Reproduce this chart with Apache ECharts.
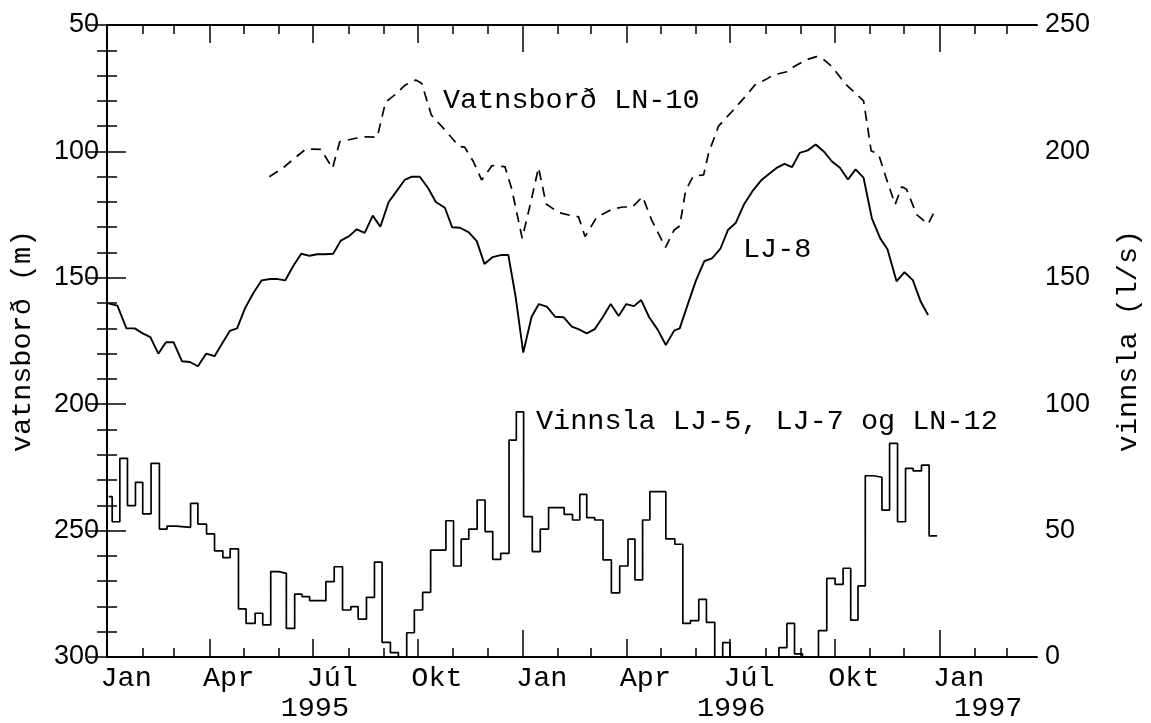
<!DOCTYPE html>
<html><head><meta charset="utf-8">
<script src="https://cdn.jsdelivr.net/npm/echarts@6/dist/echarts.min.js"></script>
<style>html,body{margin:0;padding:0;background:#fff;overflow:hidden;width:1151px;height:723px}#c{width:1151px;height:723px}</style>
</head><body><div id="c"></div>
<script>
// x unit: months since 1 Jan 1995 (uniform, 731 days = 24 units)
const quarterNames = ['Jan', 'Apr', 'Júl', 'Okt'];
const years = [1995, 1996, 1997];
const xMax = 26.81;
const leftTicks = [50, 100, 150, 200, 250, 300];
const rightTicks = [0, 50, 100, 150, 200, 250];

// Vatnsborð LJ-8 (m), [month, value]
const lj8 = [
[0.0,160],[0.3,161],[0.56,170],[0.8,170],[1.03,172],[1.25,173.5],[1.48,180],[1.7,175.5],[1.92,175.5],[2.16,183],
[2.39,183.3],[2.62,185],[2.86,180],[3.1,181],[3.32,176],[3.54,171],[3.75,170],[3.98,162],[4.22,156],[4.46,151],
[4.7,150.5],[4.92,150.5],[5.14,151],[5.36,145.5],[5.6,140.5],[5.84,141.3],[6.06,140.7],[6.29,140.7],[6.52,140.5],[6.74,135.3],
[6.98,133.5],[7.2,130.8],[7.43,132.2],[7.66,125.4],[7.88,129.8],[8.12,120],[8.36,115.5],[8.58,111.3],[8.79,110],[9.02,110],
[9.26,114.6],[9.48,120],[9.74,122.3],[9.95,130],[10.18,130.2],[10.43,132],[10.66,135.5],[10.88,144.5],[11.12,141.8],[11.35,141],
[11.57,141],[11.78,157.5],[12.0,179.6],[12.24,165.4],[12.45,160.4],[12.68,161.4],[12.92,165.4],[13.16,165.6],[13.4,169.3],[13.59,170.3],
[13.83,172],[14.06,170.3],[14.3,165.4],[14.52,160.4],[14.75,165.1],[14.97,160.4],[15.19,161.2],[15.4,158.8],[15.63,165.6],[15.87,170.4],
[16.11,176.6],[16.35,170.9],[16.51,170],[16.73,161],[16.98,151],[17.22,143.4],[17.44,142.3],[17.68,138.6],[17.9,131.1],[18.13,128.2],
[18.37,120.8],[18.63,115.3],[18.87,111.3],[19.1,108.7],[19.32,106.4],[19.53,104.9],[19.75,106.2],[19.97,100.6],[20.2,99.6],[20.43,97.3],
[20.67,100.1],[20.9,104],[21.13,106.5],[21.36,111.1],[21.58,107.1],[21.81,110.4],[22.05,126.5],[22.29,134.4],[22.5,138.7],[22.76,151.4],
[22.99,147.8],[23.23,150.9],[23.46,159.5],[23.67,164.7]
];

// Vatnsborð LN-10 (m), [month, value]
const ln10 = [
[4.68,110],[5.06,106.7],[5.46,102.1],[5.74,99],[6.17,99.2],[6.5,106.7],[6.71,96.2],[7.17,94.8],[7.45,94.2],[7.79,94.4],
[8.03,80.5],[8.31,77.5],[8.6,73.7],[8.9,71.8],[9.07,73],[9.35,85.6],[9.74,91.5],[10.15,98],[10.31,98.3],[10.56,104],
[10.8,111.3],[11.1,105.6],[11.47,106],[11.67,115],[11.97,134.4],[12.21,120.5],[12.44,106.4],[12.66,120.8],[13.02,124.2],[13.5,125.8],
[13.59,125.8],[13.78,133.7],[14.11,126.2],[14.56,122.8],[14.87,122],[15.15,122],[15.44,117.9],[15.7,127.1],[16.1,138],[16.35,131.1],
[16.51,129.5],[16.68,115.5],[16.9,109.8],[17.2,109.3],[17.34,100.8],[17.63,90],[18.01,84.3],[18.44,77.7],[18.68,73.7],[19.0,71.5],
[19.2,69.8],[19.6,68.5],[19.8,66.5],[20.15,63.8],[20.45,62.5],[20.6,63],[20.9,66.5],[21.3,73.5],[21.81,80],[21.9,88],
[22.03,99.8],[22.24,101],[22.45,110],[22.72,121],[22.91,114],[23.05,115],[23.34,125],[23.67,128.8],[23.91,122.2]
];

// Vinnsla LJ-5, LJ-7 og LN-12 (l/s), weekly steps [start month, value]
const vinnsla = [
[0.05,63.4],[0.15,53.5],[0.37,78.6],[0.59,59.9],[0.82,69.1],[1.03,56.6],[1.27,76.6],[1.51,50.6],[1.73,51.8],[1.99,51.3],
[2.41,60.8],[2.62,52.6],[2.87,48.7],[3.1,42],[3.34,39.3],[3.55,42.8],[3.79,19],[4.01,13.3],[4.27,17.3],[4.49,12.7],
[4.72,33.8],[4.95,33.1],[5.17,11.3],[5.41,24.9],[5.62,23.9],[5.84,22.3],[6.31,29.8],[6.55,35.7],[6.79,18.6],[7.03,19.9],
[7.24,15],[7.48,23.6],[7.71,37.5],[7.93,5.8],[8.17,1.7],[8.4,0],[8.64,9.6],[8.86,18.6],[9.1,25.6],[9.33,42.3],
[9.77,53.9],[9.99,36],[10.21,46.6],[10.43,50.6],[10.67,62.1],[10.9,49.6],[11.12,38.6],[11.35,41],[11.59,85.8],[11.8,97],
[12.01,55.5],[12.26,41.7],[12.49,50.6],[12.73,59.1],[13.18,56.4],[13.42,54.2],[13.63,64.3],[13.83,55.1],[14.06,54.2],[14.3,38.4],
[14.54,25.4],[14.78,36],[15.02,46.6],[15.22,30.5],[15.44,54.2],[15.65,65.4],[16.11,46.7],[16.37,44.6],[16.6,13.3],[16.82,14.4],
[17.06,22.8],[17.28,13.7],[17.52,0],[17.75,5.7],[17.96,0],[19.37,3.7],[19.6,13.3],[19.82,1.2],[20.05,0],[20.51,10.4],
[20.75,31.1],[20.99,28.7],[21.22,35.1],[21.44,14.6],[21.65,28.1],[21.86,71.7],[22.1,71.1],[22.34,58.1],[22.56,84.5],[22.79,53.5],
[23.02,74.6],[23.24,73.6],[23.48,75.9],[23.7,47.9],[23.93,47.9]
];

// month-start positions in the month unit, from real calendar days
const DAY0 = Date.UTC(1995, 0, 1);
const UNIT = 731 / 24;
const monthStarts = [];
for (let k = 0; k <= 26; k++) monthStarts.push({k, v: (Date.UTC(1995, k, 1) - DAY0) / 86400000 / UNIT});
const monthTicks = monthStarts.map(d => d.v);
const quarterTicks = monthStarts.filter(d => d.k % 3 === 0).map(d => d.v);
const yearTicks = monthStarts.filter(d => d.k % 12 === 0).map(d => d.v);
const labelShift = 0.55;
const quarterLabels = monthStarts.filter(d => d.k % 3 === 0).map(d => ({v: +(d.v + labelShift).toFixed(4), t: quarterNames[(d.k / 3) % 4]}));
const yearLabels = years.map((y, i) => {
  const a = yearTicks[i], b = i + 1 < yearTicks.length ? yearTicks[i + 1] : xMax;
  return {v: +((a + b) / 2).toFixed(4), t: String(y)};
});

const MONO = 'Liberation Mono';
const SANS = 'Liberation Sans';
const BLACK = '#000';
const TICKW = 1.5;
const TXT = 28.5;

function xAx(pos, ticks, len, opts) {
  return Object.assign({
    type: 'value', min: 0, max: xMax, position: pos, gridIndex: 0,
    axisLine: {show: false, onZero: false},
    axisTick: {show: true, inside: true, length: len, customValues: ticks, lineStyle: {color: BLACK, width: TICKW}},
    axisLabel: {show: false},
    splitLine: {show: false}
  }, opts || {});
}

const xAxes = [
  xAx('bottom', monthTicks, 9, {axisLine: {show: true, onZero: false, lineStyle: {color: BLACK, width: 2}}}),
  xAx('bottom', quarterTicks, 18),
  xAx('bottom', yearTicks, 27),
  xAx('top', monthTicks, 9, {axisLine: {show: true, onZero: false, lineStyle: {color: BLACK, width: 2}}}),
  xAx('top', quarterTicks, 18),
  xAx('top', yearTicks, 27),
  xAx('bottom', [], 0, {axisTick: {show: false}, axisLabel: {show: true, customValues: quarterLabels.map(d => d.v), margin: 7,
     formatter: v => { const f = quarterLabels.find(d => Math.abs(d.v - v) < 1e-3); return f ? f.t : ''; },
     fontFamily: MONO, fontSize: TXT, color: BLACK}}),
  xAx('bottom', [], 0, {axisTick: {show: false}, axisLabel: {show: true, customValues: yearLabels.map(d => d.v), margin: 37,
     formatter: v => { const f = yearLabels.find(d => Math.abs(d.v - v) < 1e-3); return f ? f.t : ''; },
     fontFamily: MONO, fontSize: TXT, color: BLACK}})
];

function minorY(pos, inverse, min, max) {
  return {type: 'value', inverse, min, max, interval: 10, position: pos,
    axisLine: {show: false}, axisLabel: {show: false}, splitLine: {show: false},
    axisTick: {show: true, inside: true, length: 10, lineStyle: {color: BLACK, width: TICKW}}};
}

const chart = echarts.init(document.getElementById('c'), null, {renderer: 'canvas', width: 1151, height: 723});
chart.setOption({
  backgroundColor: '#fff',
  animation: false,
  grid: {left: 105, right: 106, top: 25, bottom: 66, containLabel: false},
  xAxis: xAxes,
  yAxis: [
    {type: 'value', inverse: true, min: 50, max: 300, interval: 50, position: 'left',
     axisLine: {show: true, lineStyle: {color: BLACK, width: 2}},
     axisTick: {show: true, inside: true, length: 19, lineStyle: {color: BLACK, width: TICKW}},
     axisLabel: {fontFamily: SANS, fontSize: 27, color: BLACK, margin: 8, customValues: leftTicks},
     splitLine: {show: false},
     name: 'vatnsborð (m)', nameLocation: 'middle', nameGap: 70, nameRotate: 90,
     nameTextStyle: {fontFamily: MONO, fontSize: TXT, color: BLACK}},
    {type: 'value', min: 0, max: 250, interval: 50, position: 'right',
     axisLine: {show: true, lineStyle: {color: BLACK, width: 2}},
     axisTick: {show: true, inside: true, length: 19, lineStyle: {color: BLACK, width: TICKW}},
     axisLabel: {fontFamily: SANS, fontSize: 27, color: BLACK, margin: 8, customValues: rightTicks},
     splitLine: {show: false},
     name: 'vinnsla (l/s)', nameLocation: 'middle', nameGap: 77, nameRotate: 90,
     nameTextStyle: {fontFamily: MONO, fontSize: TXT, color: BLACK}},
    minorY('left', true, 50, 300),
    minorY('right', false, 0, 250)
  ],
  series: [
    {name: 'Vatnsborð LN-10', type: 'line', xAxisIndex: 0, yAxisIndex: 0, data: ln10, showSymbol: false, symbol: 'none',
     lineStyle: {color: BLACK, width: 1.7, type: [10, 7]}},
    {name: 'LJ-8', type: 'line', xAxisIndex: 0, yAxisIndex: 0, data: lj8, showSymbol: false, symbol: 'none',
     lineStyle: {color: BLACK, width: 1.9}},
    {name: 'Vinnsla', type: 'line', step: 'end', xAxisIndex: 0, yAxisIndex: 1, data: vinnsla, showSymbol: false, symbol: 'none',
     lineStyle: {color: BLACK, width: 1.7}}
  ],
  graphic: [
    {type: 'text', left: 443, top: 86, style: {text: 'Vatnsborð LN-10', font: TXT + 'px "Liberation Mono"', fill: BLACK}},
    {type: 'text', left: 743, top: 235, style: {text: 'LJ-8', font: TXT + 'px "Liberation Mono"', fill: BLACK}},
    {type: 'text', left: 536, top: 407, style: {text: 'Vinnsla LJ-5, LJ-7 og LN-12', font: TXT + 'px "Liberation Mono"', fill: BLACK}}
  ]
});
</script>
</body></html>
